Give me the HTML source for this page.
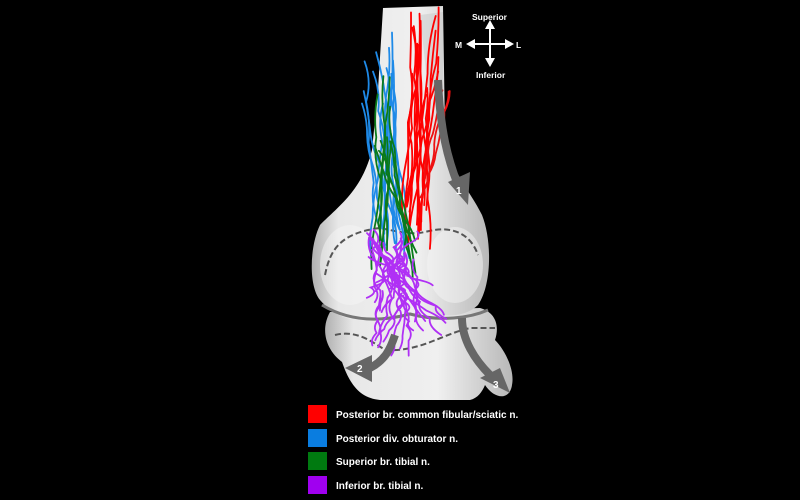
<!DOCTYPE html>
<html><head><meta charset="utf-8"><style>
html,body{margin:0;padding:0;background:#000;width:800px;height:500px;overflow:hidden}
svg{display:block}
text{font-family:"Liberation Sans",sans-serif;font-weight:bold;fill:#fff}
</style></head><body>
<svg id="s" width="800" height="500" viewBox="0 0 800 500">
<defs>
<linearGradient id="g" x1="0" x2="1">
<stop offset="0" stop-color="#b0b0b0"/><stop offset="0.15" stop-color="#e8e8e8"/><stop offset="0.6" stop-color="#f0f0f0"/><stop offset="1" stop-color="#b8b8b8"/>
</linearGradient>
</defs>
<!-- tibia/fibula -->
<path d="M330 312 C320 330 326 350 342 362 C350 385 360 398 380 400 L470 400 C478 398 482 392 485 385 C495 400 510 400 512 385 C515 370 505 350 495 340 C500 325 495 312 480 308 Z" fill="url(#g)"/>
<!-- femur -->
<path d="M383 8 L443 6 L445 130 C448 170 470 190 482 215 C492 240 492 285 478 305 C465 318 440 318 425 310 C410 320 395 320 380 318 C360 325 335 318 320 300 C308 285 310 245 320 225 C340 205 362 190 372 150 L378 90 Z" fill="url(#g)"/>
<path d="M322 305 C350 322 380 322 410 314 C440 322 470 318 488 310" fill="none" stroke="#777" stroke-width="3"/>
<path d="M420 15 L443 12 L443 90 L428 90 Z" fill="#c8c8c8" opacity=".5"/>
<ellipse cx="350" cy="265" rx="30" ry="40" fill="#f5f5f5" opacity=".5"/>
<ellipse cx="455" cy="265" rx="28" ry="38" fill="#f5f5f5" opacity=".5"/>
<path d="M325 275 C330 250 340 233 380 228 C400 232 410 235 425 232 C450 225 470 232 478 255" fill="none" stroke="#555" stroke-width="2" stroke-dasharray="6,3"/>
<path d="M335 335 C355 330 370 340 385 350 C420 352 440 335 470 328 L495 328" fill="none" stroke="#555" stroke-width="2" stroke-dasharray="6,3"/>
<g id="n" fill="none" stroke-width="1.8" stroke-linecap="round"></g>
<!-- arrows -->
<path d="M438 80 C440 130 448 160 458 185" fill="none" stroke="#666" stroke-width="8"/>
<polygon points="448,182 470,172 468,205" fill="#666"/>
<text x="456" y="194" font-size="10">1</text>
<path d="M395 335 C390 350 385 360 370 368" fill="none" stroke="#666" stroke-width="8"/>
<polygon points="372,355 345,368 372,382" fill="#666"/>
<text x="357" y="372" font-size="10">2</text>
<path d="M462 318 C462 340 475 360 490 375" fill="none" stroke="#666" stroke-width="8"/>
<polygon points="480,378 500,368 510,393" fill="#666"/>
<text x="493" y="388" font-size="10">3</text>
<!-- compass -->
<line x1="490" y1="24" x2="490" y2="62" stroke="#fff" stroke-width="2"/>
<line x1="470" y1="44" x2="510" y2="44" stroke="#fff" stroke-width="2"/>
<polygon points="490,20 485,29 495,29" fill="#fff"/>
<polygon points="490,67 485,58 495,58" fill="#fff"/>
<polygon points="466,44 475,39 475,49" fill="#fff"/>
<polygon points="514,44 505,39 505,49" fill="#fff"/>
<text x="472" y="20" font-size="8.5">Superior</text>
<text x="476" y="78" font-size="8.5">Inferior</text>
<text x="455" y="48" font-size="8.5">M</text>
<text x="516" y="48" font-size="8.5">L</text>
<!-- legend -->
<rect x="308" y="405" width="19" height="18" fill="#f00"/>
<rect x="308" y="429" width="19" height="18" fill="#0a7de0"/>
<rect x="308" y="452" width="19" height="18" fill="#007a10"/>
<rect x="308" y="476" width="19" height="18" fill="#a000f0"/>
<text x="336" y="418" font-size="10">Posterior br. common fibular/sciatic n.</text>
<text x="336" y="442" font-size="10">Posterior div. obturator n.</text>
<text x="336" y="465" font-size="10">Superior br. tibial n.</text>
<text x="336" y="489" font-size="10">Inferior br. tibial n.</text>
</svg>
<script>
var seed=7;function r(){seed=(seed*16807)%2147483647;return seed/2147483647;}
var g=document.getElementById('n'),h='';
function nerve(c,n,x0,x1,y0,y1,xe0,xe1,ye0,ye1,wig){
for(var i=0;i<n;i++){var x=x0+r()*(x1-x0),y=y0+r()*(y1-y0),xe=xe0+r()*(xe1-xe0),ye=ye0+r()*(ye1-ye0);
var d='M'+x.toFixed(1)+' '+y.toFixed(1);var k=4;
for(var j=1;j<=k;j++){var t=j/k,tm=(j-.5)/k;
d+=' Q'+(x+(xe-x)*tm+(r()-.5)*wig).toFixed(1)+' '+(y+(ye-y)*tm).toFixed(1)+' '+(x+(xe-x)*t+(r()-.5)*wig*.4).toFixed(1)+' '+(y+(ye-y)*t).toFixed(1);}
h+='<path stroke="'+c+'" d="'+d+'"/>';}}
nerve('#1e8ae8',14,362,395,28,110,370,410,220,260,12);
nerve('#ff0000',16,405,440,5,100,400,430,200,250,10);
nerve('#ee1111',3,440,452,90,100,420,430,150,200,8);
nerve('#0a7a1a',10,368,395,60,160,370,425,240,280,12);
nerve('#b030f5',26,362,420,228,275,365,450,280,340,20);
nerve('#b030f5',8,380,410,290,300,375,420,330,360,14);
g.innerHTML=h;
</script>
</body></html>
